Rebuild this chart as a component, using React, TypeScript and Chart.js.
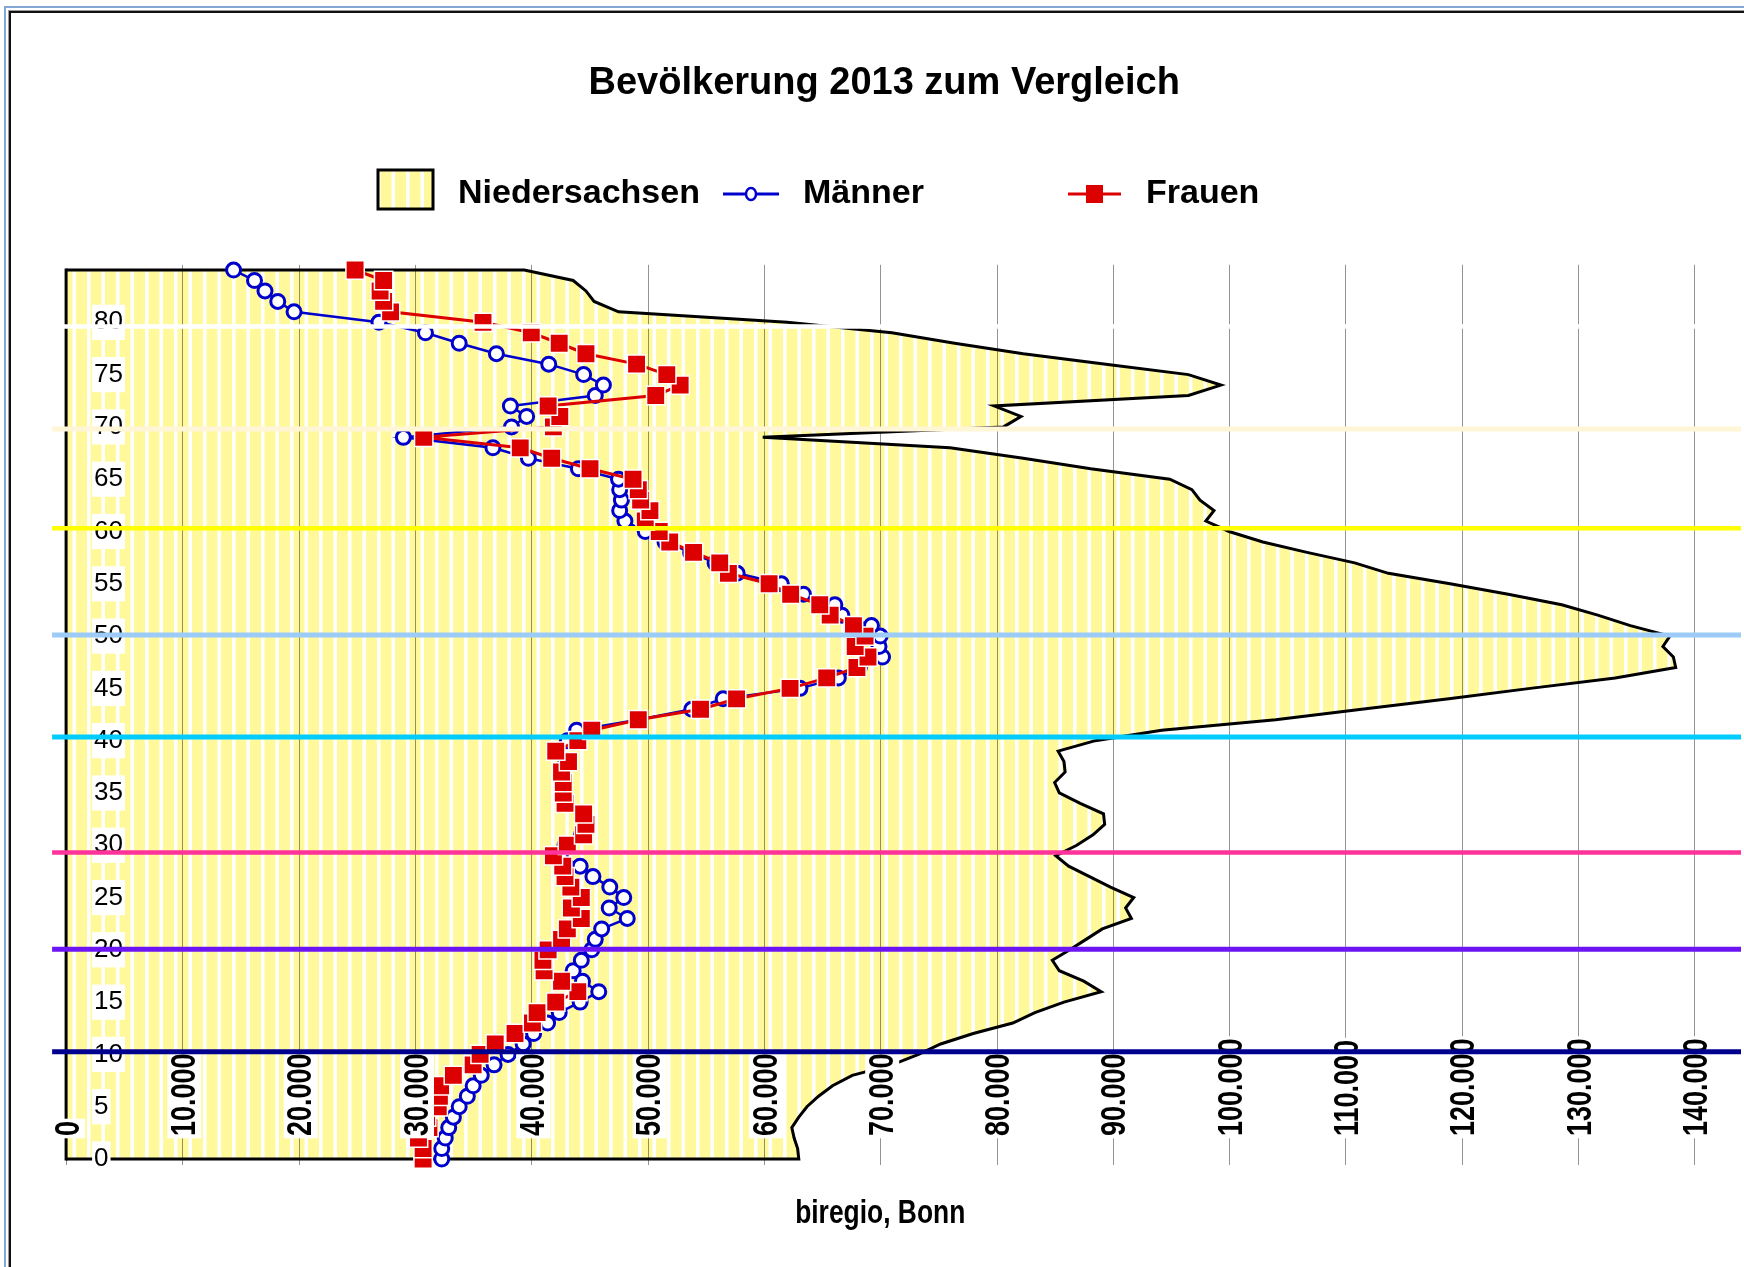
import React, { useEffect, useRef } from 'react';
import { Chart, registerables } from 'chart.js';

Chart.register(...registerables);

// ---------- data ----------
const AGES = [
  0, 1, 2, 3, 4, 5, 6, 7, 8, 9, 10, 11, 12, 13, 14, 15, 16, 17, 18, 19, 20,
  21, 22, 23, 24, 25, 26, 27, 28, 29, 30, 31, 32, 33, 34, 35, 36, 37, 38, 39, 40,
  41, 42, 43, 44, 45, 46, 47, 48, 49, 50, 51, 52, 53, 54, 55, 56, 57, 58, 59, 60,
  61, 62, 63, 64, 65, 66, 67, 68, 69, 70, 71, 72, 73, 74, 75, 76, 77, 78, 79, 80,
  81, 82, 83, 84, 85,
];

const MAENNER = [
  32300, 32300, 32600, 32900, 33300, 33800, 34500, 35000, 35700, 36800, 38000,
  39300, 40200, 41400, 42400, 44200, 45800, 44400, 43600, 44300, 45200,
  45500, 46050, 48250, 46700, 47950, 46750, 45300, 44200, 42500, 42900,
  44300, 44600, 44400, 43000, 42700, 42700, 42500, 43000, 42100, 43100,
  43900, 49200, 53800, 56500, 63100, 66400, 68200, 70200, 69900, 70000,
  69250, 66700, 66100, 63400, 61500, 57700, 55800, 53700, 51500, 49800,
  48050, 47600, 47750, 47600, 47500, 44050, 39750, 36700, 29000, 38300,
  39600, 38200, 45500, 46200, 44500, 41500, 37000, 33800, 30900, 26900,
  19600, 18200, 17100, 16200, 14400,
];

const FRAUEN = [
  30700, 30700, 30300, 31200, 31000, 32000, 32100, 32200, 33300, 35000, 35600,
  36900, 38600, 40100, 40500, 42100, 44000, 42600, 41100, 41000, 41450,
  42600, 43100, 44300, 43450, 44300, 43400, 42900, 42700, 41900, 43100,
  44500, 44700, 44500, 42900, 42750, 42750, 42600, 43200, 42100, 44000,
  45200, 49200, 54550, 57650, 62250, 65400, 68000, 68950, 67850, 68700,
  67700, 65700, 64800, 62300, 60450, 56950, 56200, 53950, 51900, 51000,
  49800, 50200, 49400, 49200, 48750, 45050, 41750, 39050, 30750, 41900,
  42450, 41450, 50700, 52800, 51650, 49050, 44700, 42400, 40000, 35850,
  27900, 27300, 27000, 27300, 24850,
];

const NIEDERSACHSEN = [
  63000, 62900, 62600, 62400, 63000, 63700, 64700, 65900, 67600, 71000, 73300,
  75200, 78000, 81400, 83300, 85800, 89000, 87500, 85400, 84800, 86300,
  87700, 89100, 91600, 91100, 91800, 89800, 88000, 86200, 85100, 86900,
  88300, 89300, 89200, 87200, 85400, 85000, 85900, 85800, 85300, 88500,
  94200, 104000, 111400, 118900, 125900, 133200, 138400, 138200, 137300, 137900,
  134500, 131700, 128600, 124000, 119000, 113700, 110800, 106700, 102900, 100000,
  98000, 98700, 97500, 96800, 94900, 88100, 82300, 76000, 59900, 80600,
  82100, 79800, 96500, 99300, 96500, 89400, 82300, 76400, 71000, 62000,
  47500, 45400, 44700, 43600, 39400,
];

const X_TICKS = [0, 10000, 20000, 30000, 40000, 50000, 60000, 70000, 80000, 90000, 100000, 110000, 120000, 130000, 140000];
const X_TICK_LABELS = ['0', '10.000', '20.000', '30.000', '40.000', '50.000', '60.000', '70.000', '80.000', '90.000', '100.000', '110.000', '120.000', '130.000', '140.000'];
const Y_TICKS = [0, 5, 10, 15, 20, 25, 30, 35, 40, 45, 50, 55, 60, 65, 70, 75, 80];

const REF_AGES = [79.6, 69.8, 60.3, 50.1, 40.35, 29.3, 20.05, 10.25];
const REF_COLORS = ['#FFFFFF', '#FFF6D8', '#FFFF00', '#9CCBF8', '#00CCFF', '#FF3399', '#6C14F4', '#00008E'];
const REF_WIDTHS = [4.5, 5, 4.5, 5, 5, 4.5, 5, 5];

const TITLE = 'Bevölkerung 2013 zum Vergleich';
const LEGEND_LABELS = ['Niedersachsen', 'Männer', 'Frauen'];
const CREDIT = 'biregio, Bonn';

const W = 1744;
const H = 1267;
const FONT = '"Liberation Sans", Arial, Helvetica, sans-serif';
const YELLOW = '#FFF99C';
const BLUE = '#0000CC';
const RED = '#DD0000';

function makeStripes(ctx: CanvasRenderingContext2D): CanvasPattern | string {
  const c = document.createElement('canvas');
  c.width = 29;
  c.height = 4;
  const g = c.getContext('2d');
  if (!g) return YELLOW;
  g.fillStyle = YELLOW;
  g.fillRect(0, 0, 29, 4);
  g.fillStyle = '#FFFFFF';
  g.fillRect(0, 0, 3.5, 4);
  g.fillRect(14.5, 0, 3.5, 4);
  return ctx.createPattern(c, 'repeat') || YELLOW;
}

const AREA_INDEX = 2;

function makeDecorPlugin(pattern: any) {
  return {
    id: 'decor',
    afterDatasetDraw(chart: any, args: any) {
      if (args.index !== AREA_INDEX) return;
      const ctx = chart.ctx;
      const xs = chart.scales.x;
      const ys = chart.scales.y;
      const top = chart.chartArea.top;
      const bottom = ys.getPixelForValue(0);
      ctx.save();
      ctx.strokeStyle = 'rgba(0,0,0,0.42)';
      ctx.lineWidth = 1;
      for (const v of X_TICKS) {
        const x = Math.round(xs.getPixelForValue(v)) + 0.5;
        ctx.beginPath();
        ctx.moveTo(x, v === 0 ? bottom : top);
        ctx.lineTo(x, bottom + 6);
        ctx.stroke();
      }
      // left edge of the area polygon
      const x0 = xs.getPixelForValue(0);
      ctx.strokeStyle = '#000';
      ctx.lineWidth = 3;
      ctx.beginPath();
      ctx.moveTo(x0, ys.getPixelForValue(AGES[AGES.length - 1]) - 1.5);
      ctx.lineTo(x0, bottom + 1.5);
      ctx.stroke();
      ctx.restore();
    },
    afterDraw(chart: any) {
      const ctx = chart.ctx;
      const xs = chart.scales.x;
      const ys = chart.scales.y;
      const area = chart.chartArea;
      ctx.save();

      // rotated value labels inside the plot
      ctx.font = 'bold 35px ' + FONT;
      ctx.textBaseline = 'middle';
      ctx.textAlign = 'left';
      const labelBottom = area.bottom - 23;
      X_TICKS.forEach((v, i) => {
        const label = X_TICK_LABELS[i];
        const x = xs.getPixelForValue(v) + 2;
        ctx.save();
        ctx.translate(x, labelBottom);
        ctx.rotate(-Math.PI / 2);
        ctx.scale(0.77, 1);
        const w = ctx.measureText(label).width;
        ctx.fillStyle = '#FFFFFF';
        ctx.fillRect(-3, -17, w + 6, 34);
        ctx.fillStyle = '#000000';
        ctx.fillText(label, 0, 1);
        ctx.restore();
      });

      // coloured reference lines
      const xStart = area.left - 14;
      const xEnd = chart.width - 3;
      REF_AGES.forEach((a, i) => {
        const y = ys.getPixelForValue(a);
        ctx.strokeStyle = REF_COLORS[i];
        ctx.lineWidth = REF_WIDTHS[i];
        ctx.beginPath();
        ctx.moveTo(xStart, y);
        ctx.lineTo(xEnd, y);
        ctx.stroke();
      });

      // title
      const cx = (area.left + area.right) / 2;
      ctx.fillStyle = '#000';
      ctx.textAlign = 'center';
      ctx.textBaseline = 'middle';
      ctx.font = 'bold 38px ' + FONT;
      ctx.fillText(TITLE, cx + 4, 84);

      // legend
      const ly = 194;
      ctx.fillStyle = pattern;
      ctx.fillRect(378, 170, 55, 39);
      ctx.strokeStyle = '#000';
      ctx.lineWidth = 3;
      ctx.strokeRect(378, 170, 55, 39);
      ctx.font = 'bold 34px ' + FONT;
      ctx.textAlign = 'left';
      ctx.fillStyle = '#000';
      ctx.fillText(LEGEND_LABELS[0], 458, ly);

      ctx.strokeStyle = BLUE;
      ctx.lineWidth = 3;
      ctx.beginPath();
      ctx.moveTo(723, ly);
      ctx.lineTo(779, ly);
      ctx.stroke();
      ctx.fillStyle = '#fff';
      ctx.lineWidth = 2.5;
      ctx.beginPath();
      ctx.ellipse(751, ly, 5, 6, 0, 0, Math.PI * 2);
      ctx.fill();
      ctx.stroke();
      ctx.fillStyle = '#000';
      ctx.fillText(LEGEND_LABELS[1], 803, ly);

      ctx.strokeStyle = RED;
      ctx.lineWidth = 3;
      ctx.beginPath();
      ctx.moveTo(1068, ly);
      ctx.lineTo(1121, ly);
      ctx.stroke();
      ctx.fillStyle = RED;
      ctx.fillRect(1086, ly - 9, 17, 18);
      ctx.fillStyle = '#000';
      ctx.fillText(LEGEND_LABELS[2], 1146, ly);

      // credit / axis title
      ctx.save();
      ctx.translate(cx, 1214);
      ctx.scale(0.8, 1);
      ctx.textAlign = 'center';
      ctx.font = 'bold 33px ' + FONT;
      ctx.fillText(CREDIT, 0, 0);
      ctx.restore();

      ctx.restore();
    },
  };
}

export default function App() {
  const ref = useRef<HTMLCanvasElement | null>(null);

  useEffect(() => {
    const canvas = ref.current;
    if (!canvas) return;
    const ctx = canvas.getContext('2d');
    if (!ctx) return;
    const pattern = makeStripes(ctx);

    const chart = new Chart(ctx, {
      type: 'line',
      data: {
        datasets: [
          {
            label: LEGEND_LABELS[2],
            data: AGES.map((a, i) => ({ x: FRAUEN[i], y: a })),
            borderColor: RED,
            borderWidth: 3,
            pointStyle: 'rect',
            pointRadius: 13,
            pointBackgroundColor: RED,
            pointBorderColor: '#FFFFFF',
            pointBorderWidth: 1.5,
            fill: false,
            tension: 0,
            clip: false,
          } as any,
          {
            label: LEGEND_LABELS[1],
            data: AGES.map((a, i) => ({ x: MAENNER[i], y: a })),
            borderColor: BLUE,
            borderWidth: 2.5,
            pointStyle: 'circle',
            pointRadius: 7,
            pointBackgroundColor: '#FFFFFF',
            pointBorderColor: BLUE,
            pointBorderWidth: 3,
            fill: false,
            tension: 0,
            clip: false,
          } as any,
          {
            label: LEGEND_LABELS[0],
            data: [
              { x: 0, y: AGES[0] },
              ...AGES.map((a, i) => ({ x: NIEDERSACHSEN[i], y: a })),
              { x: 0, y: AGES[AGES.length - 1] },
            ],
            borderColor: '#000000',
            borderWidth: 3,
            backgroundColor: pattern,
            pointRadius: 0,
            fill: 'origin',
            tension: 0,
            clip: 4,
          } as any,
        ],
      },
      options: {
        indexAxis: 'y',
        responsive: false,
        animation: false,
        events: [],
        layout: { padding: { left: 10.1, right: 49.7, top: 264.8, bottom: 108 } },
        scales: {
          x: {
            type: 'linear',
            display: false,
            min: 0,
            max: 140000,
          },
          y: {
            type: 'linear',
            position: 'left',
            min: 0,
            max: 85.5,
            grid: { display: false, drawTicks: false },
            border: { display: false },
            afterBuildTicks: (axis: any) => {
              axis.ticks = Y_TICKS.map((v) => ({ value: v }));
            },
            ticks: {
              mirror: true,
              padding: 28,
              z: 1,
              color: '#000',
              font: { family: FONT, size: 26 },
              showLabelBackdrop: true,
              backdropColor: '#FFFFFF',
              backdropPadding: 2,
              callback: (v: any) => String(v),
            },
          },
        },
        plugins: {
          legend: { display: false },
          title: { display: false },
          tooltip: { enabled: false },
        },
      } as any,
      plugins: [makeDecorPlugin(pattern)],
    });

    return () => {
      chart.destroy();
    };
  }, []);

  return (
    <div style={{ position: 'fixed', left: 0, top: 0, width: W, height: H, background: '#FFFFFF', overflow: 'hidden' }}>
      <div style={{ position: 'absolute', left: 4, top: 6, width: W, height: H, borderLeft: '2px solid #84A8D4', borderTop: '2px solid #84A8D4' }} />
      <div style={{ position: 'absolute', left: 8, top: 10, width: W, height: H, borderLeft: '1px solid #9a9a9a', borderTop: '1px solid #9a9a9a' }} />
      <div style={{ position: 'absolute', left: 9, top: 11, width: W, height: H, borderLeft: '2px solid #111111', borderTop: '2px solid #111111' }} />
      <canvas ref={ref} width={W} height={H} style={{ position: 'absolute', left: 0, top: 0, width: W, height: H }} />
    </div>
  );
}
